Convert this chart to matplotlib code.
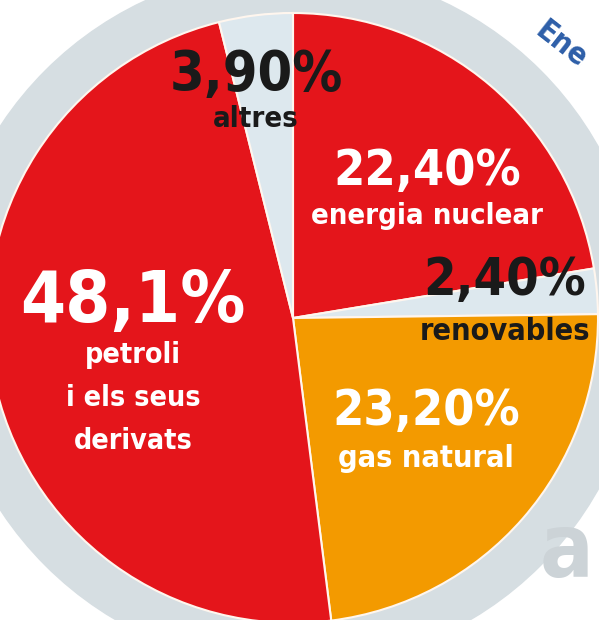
import matplotlib
matplotlib.use("Agg")
import matplotlib.pyplot as plt
from matplotlib.patches import Circle

# energy mix (Catalan labels)
sources = ["energia nuclear", "renovables", "gas natural", "petroli\ni els seus\nderivats", "altres"]
shares = [22.4, 2.4, 23.2, 48.1, 3.9]
share_labels = ["22,40%", "2,40%", "23,20%", "48,1%", "3,90%"]

red = "#e4151b"
orange = "#f39a00"
pale = "#dde8ee"
slice_colors = [red, pale, orange, red, pale]
text_colors = ["white", "#1a1a1a", "white", "white", "#1a1a1a"]

W, H = 599, 620
cx, cy = 293, H - 318
R = 305

fig = plt.figure(figsize=(W / 100, H / 100), dpi=100)
ax = fig.add_axes([0, 0, 1, 1])

# grey ring behind the pie
ax.add_patch(Circle((cx, cy), 350, color="#d6dee2", zorder=0))
ax.pie(shares, colors=slice_colors, startangle=90, counterclock=False,
       radius=R, center=(cx, cy),
       wedgeprops=dict(edgecolor="#fff6ee", linewidth=1.5))

ax.set_xlim(0, W)
ax.set_ylim(0, H)
ax.set_aspect("equal")
ax.axis("off")

font = dict(family="DejaVu Sans", fontstretch="condensed", weight="bold")

# (x, baseline y of the value, fontsize of value, baseline y of name, fontsize of name)
pos = [
    (427, 185, 36, 224, 21),
    (505, 295, 37.5, 340, 22),
    (426, 425, 36, 467, 22),
    (133, 322, 52, 363, 20.5),
    (256, 90, 40, 127, 21),
]

for i in range(len(shares)):
    x, yv, fv, yn, fn = pos[i]
    ax.text(x, H - yv, share_labels[i], color=text_colors[i], fontsize=fv,
            ha="center", va="baseline", **font)
    name = sources[i]
    lines = name.split("\n")
    for k, line in enumerate(lines):
        ax.text(x, H - yn - k * 43, line, color=text_colors[i], fontsize=fn,
                ha="center", va="baseline", **font)

# bits of the surrounding page (title running round the ring, cropped)
ax.text(534, H - 34, "Ene", color="#2d5ea8", fontsize=22, rotation=-38,
        rotation_mode="anchor", ha="left", va="baseline", **font)
ax.text(540, H - 577, "a", color="#ccd3d7", fontsize=64, ha="left",
        va="baseline", **font)

fig.savefig("out.png", dpi=100)
